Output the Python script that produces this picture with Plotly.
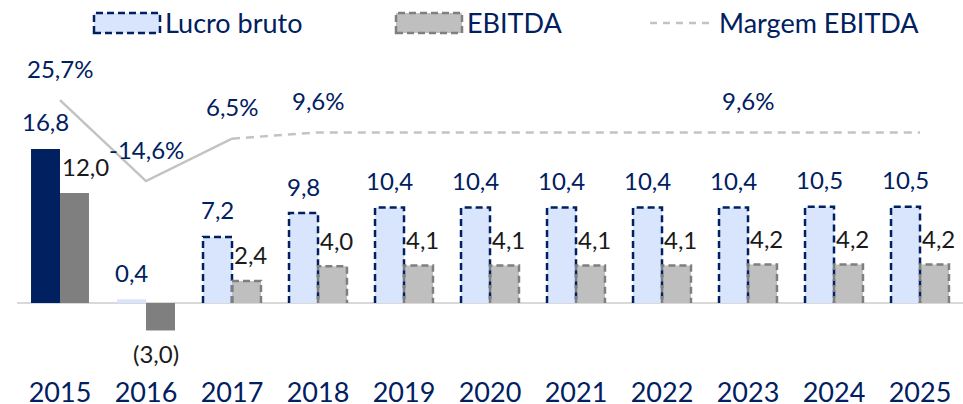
import plotly.graph_objects as go

# ---------------- data ----------------
years = ["2015", "2016", "2017", "2018", "2019", "2020", "2021", "2022", "2023", "2024", "2025"]
lucro_bruto = [16.8, 0.4, 7.2, 9.8, 10.4, 10.4, 10.4, 10.4, 10.4, 10.5, 10.5]
ebitda = [12.0, -3.0, 2.4, 4.0, 4.1, 4.1, 4.1, 4.1, 4.2, 4.2, 4.2]
margem_ebitda = [25.7, -14.6, 6.5, 9.6, 9.6, 9.6, 9.6, 9.6, 9.6, 9.6, 9.6]
margem_label_idx = [0, 1, 2, 3, 8]
first_projected = 2  # from 2017 on: projections (dashed)

# ---------------- style ----------------
NAVY = "#002060"
LIGHT_BLUE = "#D9E5FC"
DARK_GRAY = "#7F7F7F"
LIGHT_GRAY = "#BFBFBF"
LINE_GRAY = "#C3C3C3"
FONT = "Lato"
W = 0.337
LBL = 24

W_PX, H_PX = 963, 404
ML, MR, MT, MB = 17, 0, 40, 44

idx = list(range(len(years)))


def fmt(v, pct=False):
    s = f"{abs(v):.1f}".replace(".", ",")
    if pct:
        return ("-" if v < 0 else "") + s + "%"
    return f"({s})" if v < 0 else s


fig = go.Figure()

lucro_colors = [NAVY if i == 0 else LIGHT_BLUE for i in idx]
ebitda_colors = [DARK_GRAY if i < first_projected else LIGHT_GRAY for i in idx]

fig.add_trace(go.Bar(x=idx, y=lucro_bruto, offset=-W, width=W,
                     marker=dict(color=lucro_colors, line=dict(width=0)),
                     showlegend=False, hoverinfo="skip"))
fig.add_trace(go.Bar(x=idx, y=ebitda, offset=0, width=W,
                     marker=dict(color=ebitda_colors, line=dict(width=0)),
                     showlegend=False, hoverinfo="skip"))


# dashed outlines for projected bars
def outline(values, x0off, x1off):
    xs, ys = [], []
    for i in idx:
        if i < first_projected:
            continue
        v = values[i]
        xs += [i + x0off, i + x0off, i + x1off, i + x1off, None]
        ys += [0, v, v, 0, None]
    return xs, ys


xs, ys = outline(lucro_bruto, -W, 0)
fig.add_trace(go.Scatter(x=xs, y=ys, mode="lines",
                         line=dict(color=NAVY, width=2.5, dash="7px,4px"),
                         showlegend=False, hoverinfo="skip"))
xs, ys = outline(ebitda, 0, W)
fig.add_trace(go.Scatter(x=xs, y=ys, mode="lines",
                         line=dict(color=DARK_GRAY, width=2.5, dash="7px,4px"),
                         showlegend=False, hoverinfo="skip"))

# margin line (secondary axis)
fig.add_trace(go.Scatter(x=idx[:first_projected + 1], y=margem_ebitda[:first_projected + 1],
                         mode="lines", yaxis="y2",
                         line=dict(color=LINE_GRAY, width=2.5),
                         showlegend=False, hoverinfo="skip"))
fig.add_trace(go.Scatter(x=idx[first_projected:], y=margem_ebitda[first_projected:],
                         mode="lines", yaxis="y2",
                         line=dict(color=LINE_GRAY, width=2.5, dash="8px,6px"),
                         showlegend=False, hoverinfo="skip"))

ann = []
for i in idx:
    v = lucro_bruto[i]
    ann.append(dict(x=i - W / 2, y=v, xref="x", yref="y", text=fmt(v), showarrow=False,
                    yanchor="middle", yshift=27 if v >= 0 else -22,
                    font=dict(family=FONT, size=LBL, color=NAVY)))
    v = ebitda[i]
    if v >= 0:
        ann.append(dict(x=i, y=v, xref="x", yref="y", text=fmt(v), showarrow=False,
                        xanchor="left", xshift=0, yanchor="middle", yshift=26,
                        font=dict(family=FONT, size=LBL, color="#1A1A1A")))
    else:
        ann.append(dict(x=i + W / 2, y=v, xref="x", yref="y", text=fmt(v), showarrow=False,
                        xanchor="center", xshift=-4, yanchor="middle", yshift=-23,
                        font=dict(family=FONT, size=LBL, color="#1A1A1A")))
for i in margem_label_idx:
    ann.append(dict(x=i, y=margem_ebitda[i], xref="x", yref="y2", text=fmt(margem_ebitda[i], True),
                    showarrow=False, yanchor="middle", yshift=32,
                    font=dict(family=FONT, size=LBL, color=NAVY)))


# custom legend (pixel -> paper)
def px(x):
    return (x - ML) / (W_PX - ML - MR)


def py(y):
    return (H_PX - MB - y) / (H_PX - MT - MB)


shapes = [
    dict(type="rect", xref="paper", yref="paper", x0=px(94), x1=px(160), y0=py(33), y1=py(13),
         fillcolor=LIGHT_BLUE, line=dict(color=NAVY, width=2.5, dash="7px,4px")),
    dict(type="rect", xref="paper", yref="paper", x0=px(396), x1=px(462), y0=py(33), y1=py(13),
         fillcolor=LIGHT_GRAY, line=dict(color=DARK_GRAY, width=2.5, dash="7px,4px")),
    dict(type="line", xref="paper", yref="paper", x0=px(650), x1=px(712), y0=py(23), y1=py(23),
         line=dict(color=LINE_GRAY, width=2.5, dash="7px,6px")),
]
for x, t in [(163, "Lucro bruto"), (465, "EBITDA"), (717, "Margem EBITDA")]:
    ann.append(dict(x=px(x), y=py(22), xref="paper", yref="paper", text=t, showarrow=False,
                    xanchor="left", yanchor="middle",
                    font=dict(family=FONT, size=27, color=NAVY)))

fig.update_layout(
    width=W_PX, height=H_PX,
    margin=dict(l=ML, r=MR, t=MT, b=MB, pad=0, autoexpand=False),
    paper_bgcolor="white", plot_bgcolor="white",
    barmode="overlay",
    xaxis=dict(range=[-0.5, len(years) - 0.5], tickvals=idx, ticktext=years,
               tickfont=dict(family=FONT, size=27, color=NAVY),
               showgrid=False, zeroline=False, showline=False, ticks="",
               ticklabelstandoff=14, automargin=False),
    yaxis=dict(range=[-6.22, 28.68], showgrid=False, showticklabels=False, ticks="",
               zeroline=True, zerolinecolor="#D9D9D9", zerolinewidth=2.5, automargin=False),
    yaxis2=dict(range=[-103.6, 55.57], overlaying="y", visible=False),
    annotations=ann, shapes=shapes,
    showlegend=False,
    hovermode=False,
)

# remove the browser's default 8px page margin so the figure sits at the window's corner
fig.write_html("out.html", config={"displayModeBar": False, "staticPlot": True},
               post_script="document.body.style.margin='0';document.body.style.overflow='hidden';")
